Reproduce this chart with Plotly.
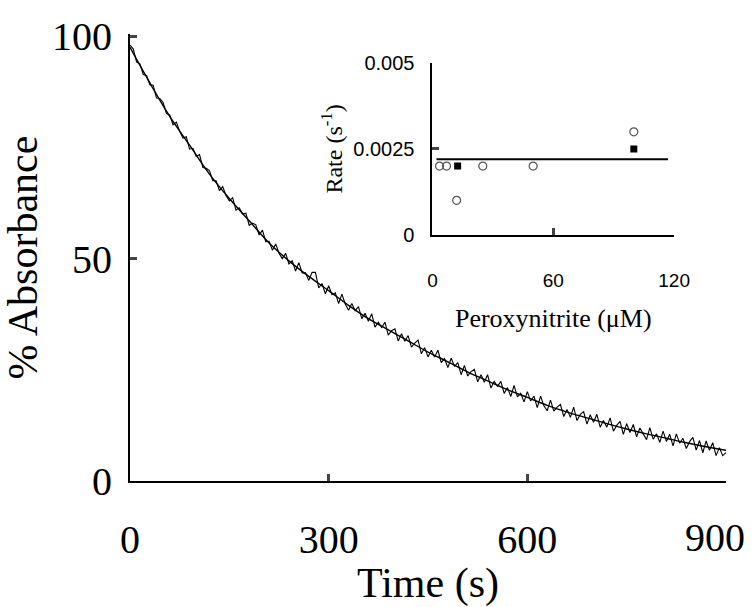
import plotly.graph_objects as go

# ---- main panel data ----
time_s = list(range(0, 905, 5))
absorb_pct = [
    98.0, 97.1, 94.2, 93.8, 91.4, 91.2,
    89.1, 89.0, 86.1, 86.0, 85.1, 82.6,
    82.3, 80.1, 80.7, 78.6, 77.1, 77.4,
    74.6, 74.8, 73.0, 73.4, 70.5, 70.3,
    69.8, 67.5, 67.5, 65.3, 66.2, 64.2,
    63.0, 63.7, 60.9, 61.4, 60.0, 60.2,
    57.5, 58.0, 57.6, 55.3, 56.4, 53.8,
    53.9, 51.9, 53.3, 51.2, 50.0, 51.2,
    48.8, 49.5, 47.2, 49.1, 46.8, 46.8,
    45.1, 46.9, 46.9, 43.4, 44.4, 42.1,
    43.9, 41.9, 42.3, 39.9, 42.0, 39.8,
    38.4, 39.9, 38.3, 39.2, 36.5, 37.7,
    35.9, 37.6, 34.6, 35.7, 34.5, 35.7,
    32.8, 33.8, 34.2, 31.5, 33.1, 31.4,
    32.7, 30.1, 31.0, 31.7, 28.6, 30.0,
    27.9, 29.4, 27.9, 29.4, 26.6, 27.5,
    25.5, 27.6, 25.8, 26.6, 23.9, 26.0,
    23.6, 24.6, 25.1, 22.3, 23.9, 22.2,
    23.9, 20.9, 22.4, 21.3, 22.4, 19.7,
    21.0, 19.0, 21.5, 18.9, 19.7, 17.8,
    20.1, 18.0, 19.1, 16.5, 19.1, 16.9,
    15.8, 18.2, 15.7, 16.6, 17.2, 14.5,
    16.1, 14.3, 16.6, 13.6, 15.0, 15.6,
    12.8, 14.9, 13.2, 15.0, 12.1, 13.6,
    12.1, 14.2, 11.2, 12.5, 13.4, 10.5,
    12.9, 10.9, 12.7, 9.95, 11.9, 10.5,
    9.3, 12.0, 9.4, 10.6, 8.7, 11.2,
    8.9, 10.5, 7.9, 10.6, 8.5, 9.6,
    7.3, 8.85, 9.8, 6.95, 9.1, 6.35,
    9.0, 6.9, 8.6, 5.7, 7.5, 5.7,
    6.4,
]
fit_time_s = list(range(0, 930, 30))
fit_pct = [97.5, 89.5, 82.0, 75.5, 69.0, 63.5, 58.5, 53.5, 49.5, 46.0, 42.8,
           39.5, 36.5, 34.0, 31.5, 29.0, 26.8, 24.5, 22.5, 20.5, 18.8, 17.0,
           15.5, 14.2, 12.9, 11.7, 10.6, 9.6, 8.6, 7.7, 6.9]
main_xticks = [0, 300, 600, 900]
main_xticklabels = ["0", "300", "600", "900"]
main_yticks = [0, 50, 100]

# ---- inset data ----
open_x = [3.5, 7, 12, 25, 50, 100]
open_y = [0.002, 0.002, 0.001, 0.002, 0.002, 0.003]
filled_x = [12.5, 100]
filled_y = [0.002, 0.0025]
mean_x = [2, 117]
mean_y = [0.0022, 0.0022]
inset_xticks = [0, 60, 120]
inset_yticks = [0, 0.0025, 0.005]
inset_yticklabels = ["0", "0.0025", "0.005"]

serif = "Liberation Serif, Times New Roman, serif"
sans = "Liberation Sans, Arial, sans-serif"

fig = go.Figure()
fig.add_trace(go.Scatter(x=time_s, y=absorb_pct, mode="lines",
                         line=dict(color="black", width=1.1), showlegend=False))
fig.add_trace(go.Scatter(x=fit_time_s, y=fit_pct, mode="lines",
                         line=dict(color="black", width=1.4, shape="spline"),
                         showlegend=False))

fig.add_trace(go.Scatter(x=mean_x, y=mean_y, mode="lines", xaxis="x2", yaxis="y2",
                         line=dict(color="black", width=2), showlegend=False))
fig.add_trace(go.Scatter(x=open_x, y=open_y, mode="markers", xaxis="x2", yaxis="y2",
                         marker=dict(symbol="circle-open", size=8, color="#555",
                                     line=dict(width=1.2)), showlegend=False))
fig.add_trace(go.Scatter(x=filled_x, y=filled_y, mode="markers", xaxis="x2", yaxis="y2",
                         marker=dict(symbol="square", size=7, color="black"),
                         showlegend=False))

# last main x tick label sits partly past the plot edge in the reference
shown_xticklabels = main_xticklabels[:-1] + [""]

fig.update_layout(
    width=754, height=607,
    margin=dict(l=130, r=27, t=34, b=114),
    paper_bgcolor="white", plot_bgcolor="white",
    xaxis=dict(range=[0, 900], tickvals=main_xticks, ticktext=shown_xticklabels,
               ticks="inside", ticklen=7,
               tickwidth=2.5, showline=True, linewidth=2, linecolor="black",
               showgrid=False, zeroline=False, ticklabelstandoff=22,
               tickfont=dict(family=serif, size=40, color="black"),
               title=dict(text="Time (s)", standoff=4,
                          font=dict(family=serif, size=42, color="black"))),
    yaxis=dict(range=[0, 100.5], tickvals=main_yticks, ticks="inside", ticklen=7,
               tickwidth=2.5, showline=True, linewidth=2, linecolor="black",
               showgrid=False, zeroline=False, ticklabelstandoff=8,
               tickfont=dict(family=serif, size=40, color="black"),
               title=dict(text="% Absorbance", standoff=4,
                          font=dict(family=serif, size=42, color="black"))),
    xaxis2=dict(domain=[0.5075, 0.9129], anchor="y2", range=[0, 120],
                tickvals=inset_xticks, ticks="inside", ticklen=7, tickwidth=2.5,
                showline=True, linewidth=2, linecolor="black", showgrid=False,
                zeroline=False, ticklabelstandoff=28,
                tickfont=dict(family=sans, size=19, color="black"),
                title=dict(text="Peroxynitrite (\u03bcM)", standoff=18,
                           font=dict(family=serif, size=26, color="black"))),
    yaxis2=dict(domain=[0.5512, 0.9346], anchor="x2", range=[0, 0.005],
                tickvals=inset_yticks, ticktext=inset_yticklabels, ticks="inside",
                ticklen=7, tickwidth=2.5, showline=True, linewidth=2,
                linecolor="black", showgrid=False, zeroline=False,
                ticklabelstandoff=12,
                tickfont=dict(family=sans, size=20, color="black"),
                title=dict(text="Rate (s<sup>-1</sup>)", standoff=4,
                           font=dict(family=serif, size=24, color="black"))),
    annotations=[dict(text=main_xticklabels[-1], x=main_xticks[-1], xref="x",
                      y=0, yref="paper", xanchor="center", yanchor="top",
                      xshift=-11, yshift=-32, showarrow=False,
                      font=dict(family=serif, size=40, color="black"))],
)

fig.write_html("out.html")
